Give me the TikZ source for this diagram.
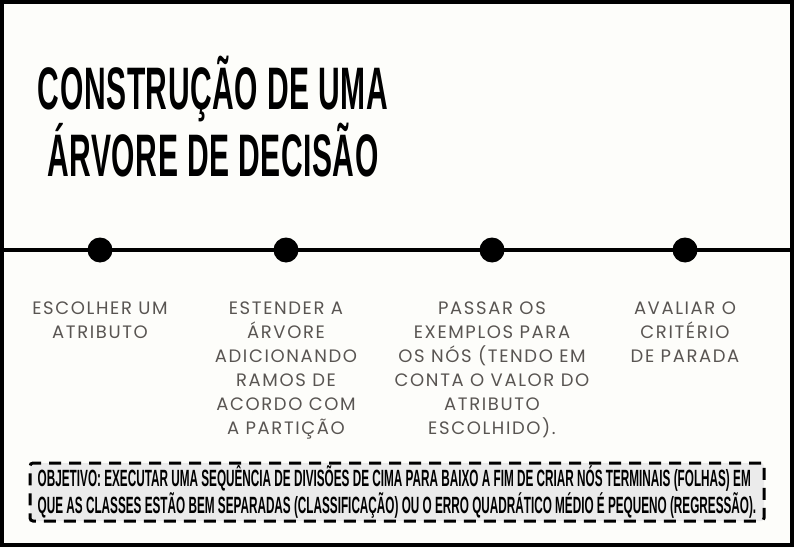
\documentclass[tikz,border=0pt]{standalone}
\usepackage{fontspec}
\usetikzlibrary{positioning}

\newfontfamily\headfont{Liberation Sans Bold}[FakeStretch=0.5,LetterSpace=1]
\newfontfamily\goalfont{Liberation Sans Bold}[FakeStretch=0.5]
\newfontfamily\stepfont{Poppins}[LetterSpace=9]

\definecolor{paper}{HTML}{FDFDFA}
\definecolor{steptext}{HTML}{595552}
\definecolor{goalfill}{HTML}{EBEBEB}

\tikzset{
  milestone/.style={circle,fill=black,inner sep=0pt,minimum size=25pt},
  steplabel/.style={inner sep=0pt,align=center,text=steptext,
    font=\stepfont\fontsize{18}{24}\selectfont},
  goalbox/.style={draw,fill=goalfill,line width=3pt,dash pattern=on 12pt off 8pt,
    rounded corners=3pt,minimum width=734pt,minimum height=58pt,inner sep=0pt,
    align=left,font=\goalfont\fontsize{23.5}{27}\selectfont}
}

\begin{document}
\begin{tikzpicture}[x=1pt,y=-1pt]
  \useasboundingbox (0,0) rectangle (794,548);
  \fill[paper] (0,0) rectangle (794,548);
  \draw[line width=4pt] (2,2) rectangle (792,545);

  % title
  \node[align=center,inner sep=0pt,font=\headfont\fontsize{60}{62}\selectfont] (title) at (213,117)
    {CONSTRUÇÃO DE UMA\\ÁRVORE DE DECISÃO};

  % timeline
  \coordinate (tl-start) at (0,250);
  \coordinate (tl-end) at (794,250);
  \draw[line width=3.5pt] (tl-start) -- (tl-end);
  \node[milestone] (choose) at (100,250) {};
  \node[milestone] (extend) at (286,250) {};
  \node[milestone] (pass) at (492,250) {};
  \node[milestone] (stop) at (685,250) {};

  % steps
  \node[steplabel,below=39pt of choose] (choose-txt) {ESCOLHER UM\\ATRIBUTO};
  \node[steplabel,below=39pt of extend] (extend-txt) {ESTENDER A\\ÁRVORE\\ADICIONANDO\\RAMOS DE\\ACORDO COM\\A PARTIÇÃO};
  \node[steplabel,below=39pt of pass] (pass-txt) {PASSAR OS\\EXEMPLOS PARA\\OS NÓS (TENDO EM\\CONTA O VALOR DO\\ATRIBUTO\\ESCOLHIDO).};
  \node[steplabel,below=39pt of stop] (stop-txt) {AVALIAR O\\CRITÉRIO\\DE PARADA};

  % objective
  \node[goalbox] (goal) at (397,492)
    {OBJETIVO: EXECUTAR UMA SEQUÊNCIA DE DIVISÕES DE CIMA PARA BAIXO A FIM DE CRIAR NÓS TERMINAIS (FOLHAS) EM\\
     QUE AS CLASSES ESTÃO BEM SEPARADAS (CLASSIFICAÇÃO) OU O ERRO QUADRÁTICO MÉDIO É PEQUENO (REGRESSÃO).};
\end{tikzpicture}
\end{document}
